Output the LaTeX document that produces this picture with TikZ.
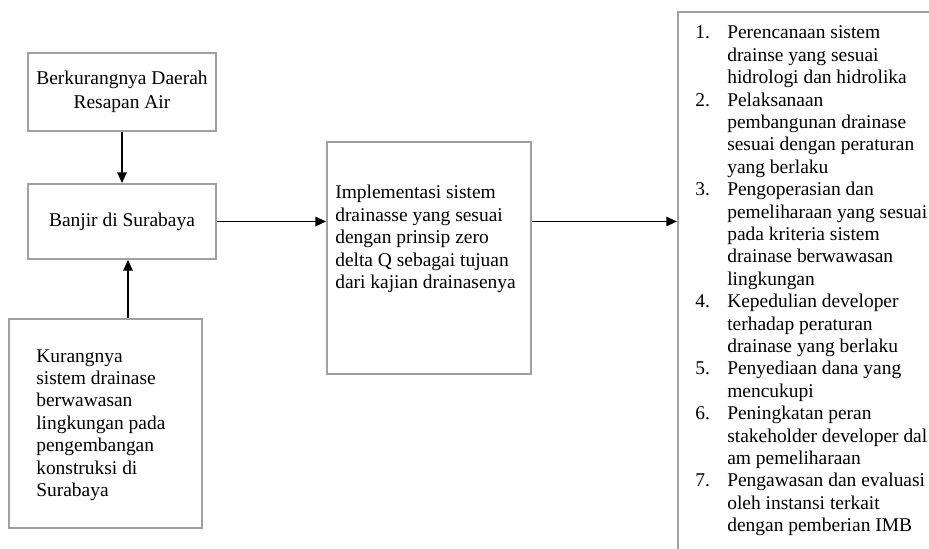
\documentclass[tikz,border=0pt]{standalone}
\usepackage{fontspec}
\setmainfont{Liberation Serif}
\usetikzlibrary{arrows.meta,positioning,calc}
\definecolor{edge}{RGB}{160,160,160}

\begin{document}
\begin{tikzpicture}[x=0.75pt,y=-0.75pt,font=\fontsize{14.6}{16.8}\selectfont,
  box/.style={draw=edge,line width=1.4pt,inner sep=0pt},
  arr/.style={-{Triangle[length=8pt,width=7pt]},line width=1.4pt}]
\useasboundingbox (0,0) rectangle (929,549);
\clip (0,0) rectangle (929,549);
% left column
\node[box,minimum width=141pt,minimum height=58.5pt,align=center] (daerah) at (122,92) {Berkurangnya Daerah\\[1.2pt]Resapan Air};
\node[box,minimum width=141pt,minimum height=56.25pt] (banjir) at (122,221.5) {Banjir di Surabaya};
\node[box,minimum width=144.75pt,minimum height=156.75pt] (kurang) at (105.5,423.5) {};
\node[anchor=west,align=left,inner sep=0pt] (kurangtext) at (36,425) {Kurangnya\\sistem drainase\\berwawasan\\lingkungan pada\\pengembangan\\konstruksi di\\Surabaya};
% middle
\node[box,minimum width=153pt,minimum height=174pt] (impl) at (429,258) {};
\node[anchor=west,align=left,inner sep=0pt] (impltext) at (335,239) {Implementasi sistem\\drainasse yang sesuai\\dengan prinsip zero\\delta Q sebagai tujuan\\dari kajian drainasenya};
% right list
\node[box,anchor=north west,minimum width=202.5pt,minimum height=420pt] (tindak) at (677,11) {};
\node[anchor=north west,inner sep=0pt] (daftar) at (695,23) {%
\begin{tabular}{@{}p{24pt}@{}l@{}}
1. & Perencanaan sistem\\
   & drainse yang sesuai\\
   & hidrologi dan hidrolika\\
2. & Pelaksanaan\\
   & pembangunan drainase\\
   & sesuai dengan peraturan\\
   & yang berlaku\\
3. & Pengoperasian dan\\
   & pemeliharaan yang sesuai\\
   & pada kriteria sistem\\
   & drainase berwawasan\\
   & lingkungan\\
4. & Kepedulian developer\\
   & terhadap peraturan\\
   & drainase yang berlaku\\
5. & Penyediaan dana yang\\
   & mencukupi\\
6. & Peningkatan peran\\
   & stakeholder developer dal\\
   & am pemeliharaan\\
7. & Pengawasan dan evaluasi\\
   & oleh instansi terkait\\
   & dengan pemberian IMB
\end{tabular}};
% arrows
\draw[arr] (daerah) -- (banjir);
\draw[arr] ([xshift=4.5pt]banjir.south |- kurang.north) -- ([xshift=4.5pt]banjir.south);
\draw[arr] (banjir.east) -- (banjir.east -| impl.west);
\draw[arr] (banjir.east -| impl.east) -- (banjir.east -| tindak.west);
\end{tikzpicture}
\end{document}
